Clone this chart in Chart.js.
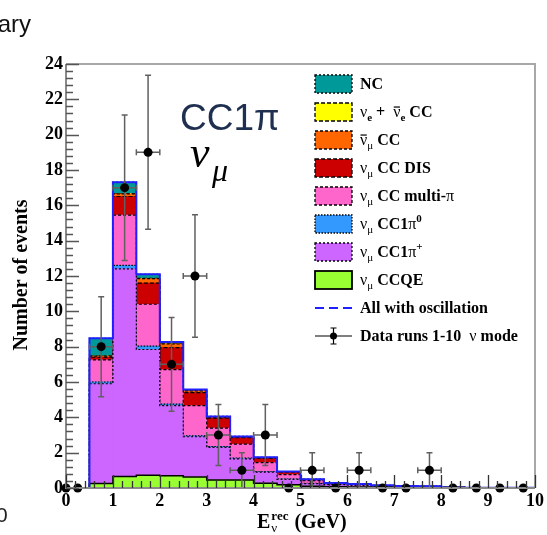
<!DOCTYPE html>
<html>
<head>
<meta charset="utf-8">
<script src="https://cdn.jsdelivr.net/npm/chart.js@4.4.1/dist/chart.umd.min.js"></script>
<style>
  html, body { margin: 0; padding: 0; background: #fff; overflow: hidden; }
  #wrap { position: relative; width: 547px; height: 535px; }
</style>
</head>
<body>
<div id="wrap"><canvas id="c" width="547" height="535"></canvas></div>
<script>
// Reconstructed neutrino energy bins (GeV), 0.5 GeV wide
const binCenters  = [0.25, 0.75, 1.25, 1.75, 2.25, 2.75, 3.25, 3.75, 4.25, 4.75,
                     5.25, 5.75, 6.25, 6.75, 7.25, 7.75, 8.25, 8.75, 9.25, 9.75];
const binLowEdges = [0, 0.5, 1, 1.5, 2, 2.5, 3, 3.5, 4, 4.5,
                     5, 5.5, 6, 6.5, 7, 7.5, 8, 8.5, 9, 9.5, 10];

// Predicted events per bin for each interaction mode (stacked bottom to top)
const numuCCQE    = [0, 0.25, 0.65, 0.72, 0.70, 0.62, 0.45, 0.45, 0.27, 0.18, 0.10, 0.07, 0.06, 0.05, 0.04, 0.03, 0.02, 0.01, 0.01, 0.01];
const numuCC1piP  = [0, 5.65, 11.75, 7.12, 3.96, 2.28, 1.85, 1.20, 0.63, 0.31, 0.15, 0.12, 0.09, 0.06, 0.04, 0.04, 0.01, 0.01, 0.01, 0.01];
const numuCC1pi0  = [0, 0.10, 0.20, 0.19, 0.09, 0.05, 0.05, 0.04, 0.03, 0.02, 0.01, 0.01, 0, 0, 0, 0, 0, 0, 0, 0];
const numuCCmulti = [0, 1.25, 2.85, 2.37, 1.95, 1.71, 1.04, 0.79, 0.51, 0.25, 0.16, 0.06, 0.04, 0.02, 0.02, 0.01, 0, 0, 0, 0];
const numuCCDIS   = [0, 0.15, 1.05, 1.20, 1.25, 0.74, 0.56, 0.37, 0.24, 0.14, 0.05, 0.02, 0.02, 0.01, 0.01, 0.01, 0, 0, 0, 0];
const numubarCC   = [0, 0.06, 0.15, 0.25, 0.20, 0.10, 0.05, 0.03, 0.03, 0.02, 0.01, 0, 0, 0, 0, 0, 0, 0, 0, 0];
const nueCC       = [0, 0.01, 0.02, 0.02, 0.01, 0.01, 0.01, 0, 0, 0, 0, 0, 0, 0, 0, 0, 0, 0, 0, 0];
const ncEvents    = [0, 1.00, 0.64, 0.23, 0.11, 0.06, 0.04, 0.04, 0.03, 0.01, 0.02, 0.01, 0.01, 0.01, 0.01, 0.01, 0, 0, 0, 0];

// Observed data (runs 1-10, neutrino mode)
const dataE       = [0.0, 0.25, 0.75, 1.25, 1.75, 2.25, 2.75, 3.25, 3.75, 4.25, 4.75,
                     5.25, 5.75, 6.25, 6.75, 7.25, 7.75, 8.25, 8.75, 9.25, 9.75];
const dataCounts  = [0, 0, 8, 17, 19, 7, 12, 3, 1, 3, 0, 1, 0, 1, 0, 0, 1, 0, 0, 0, 0];
const dataErr     = [0, 0, 2.83, 4.12, 4.36, 2.65, 3.46, 1.73, 1, 1.73, 0, 1, 0, 1, 0, 0, 1, 0, 0, 0, 0];
const dataHalfBin = [0, 0, 0.25, 0.25, 0.25, 0.25, 0.25, 0.25, 0.25, 0.25, 0, 0.25, 0, 0.25, 0, 0, 0.25, 0, 0, 0, 0];

// Axis ticks
const xTickMajor = 1, xTickMinor = 0.2;
const yTickMajor = 2, yTickMinor = 0.4;

const SERIF = '"Liberation Serif", "Times New Roman", serif';
const SANS  = '"Liberation Sans", Arial, sans-serif';

const layers = [
  { label: 'νμ CCQE',        values: numuCCQE,    color: '#99ff33', dash: [],      lw: 1.5 },
  { label: 'νμ CC1π+',       values: numuCC1piP,  color: '#cc66ff', dash: [2, 2],  lw: 1.2 },
  { label: 'νμ CC1π0',       values: numuCC1pi0,  color: '#3399ff', dash: [1.5, 1.5], lw: 1.2 },
  { label: 'νμ CC multi-π',  values: numuCCmulti, color: '#ff66cc', dash: [3, 2],  lw: 1.2 },
  { label: 'νμ CC DIS',      values: numuCCDIS,   color: '#cc0000', dash: [4, 2],  lw: 1.2 },
  { label: 'ν̄μ CC',          values: numubarCC,   color: '#ff6600', dash: [3, 2],  lw: 1.2 },
  { label: 'νe + ν̄e CC',     values: nueCC,       color: '#ffff00', dash: [4, 2],  lw: 1.2 },
  { label: 'NC',             values: ncEvents,    color: '#009999', dash: [2, 2],  lw: 1.2 }
];

// Sum of all modes, drawn as the outline of the prediction
const totalPred = binCenters.map((_, i) => layers.reduce((s, l) => s + l.values[i], 0));

const datasets = layers.map(l => ({
  type: 'bar',
  label: l.label,
  data: binCenters.map((x, i) => ({ x, y: l.values[i] })),
  backgroundColor: l.color,
  borderWidth: 0,
  barPercentage: 1,
  categoryPercentage: 1,
  grouped: false,
  stack: 'mc',
  order: 2,
  outline: { dash: l.dash, lw: l.lw }
}));

datasets.push({
  type: 'line',
  label: 'All with oscillation',
  data: binLowEdges.map((x, i) => ({ x, y: totalPred[Math.min(i, totalPred.length - 1)] })),
  borderColor: '#2020ff',
  borderWidth: 2,
  pointRadius: 0,
  fill: false,
  stepped: true,
  order: 1
});

const dataIndex = datasets.length;
datasets.push({
  type: 'line',
  label: 'Data runs 1-10  ν mode',
  data: dataE.map((x, i) => ({ x, y: dataCounts[i] })),
  showLine: false,
  pointRadius: 4.5,
  pointBackgroundColor: '#000',
  pointBorderColor: '#000',
  pointBorderWidth: 0,
  clip: false,
  order: 0
});

// Dashed step outline on top of each stacked layer
const layerOutlines = {
  id: 'layerOutlines',
  afterDatasetDraw(chart, args) {
    const ds = chart.data.datasets[args.index];
    if (!ds.outline) return;
    const ctx = chart.ctx, area = chart.chartArea;
    const y0 = chart.scales.y.getPixelForValue(0);
    const els = args.meta.data;
    ctx.save();
    ctx.beginPath();
    ctx.rect(area.left, area.top, area.right - area.left, area.bottom - area.top);
    ctx.clip();
    ctx.beginPath();
    els.forEach((el, j) => {
      const p = el.getProps(['x', 'y', 'width'], true);
      const l = p.x - p.width / 2, r = p.x + p.width / 2;
      if (j === 0) ctx.moveTo(l, y0);
      ctx.lineTo(l, p.y);
      ctx.lineTo(r, p.y);
      if (j === els.length - 1) ctx.lineTo(r, y0);
    });
    ctx.setLineDash(ds.outline.dash);
    ctx.lineWidth = ds.outline.lw;
    ctx.strokeStyle = '#000';
    ctx.stroke();
    ctx.restore();
  }
};

// Error bars on the data points
const errorBars = {
  id: 'errorBars',
  beforeDatasetDraw(chart, args) {
    if (args.index !== dataIndex) return;
    const ctx = chart.ctx, xs = chart.scales.x, ys = chart.scales.y;
    ctx.save();
    ctx.strokeStyle = '#606060';
    ctx.lineWidth = 1.5;
    const cap = 3;
    dataE.forEach((e, i) => {
      const n = dataCounts[i];
      if (n <= 0) return;
      const px = xs.getPixelForValue(e), py = ys.getPixelForValue(n);
      const yHi = ys.getPixelForValue(n + dataErr[i]);
      const yLo = ys.getPixelForValue(Math.max(0, n - dataErr[i]));
      const xL = xs.getPixelForValue(e - dataHalfBin[i]);
      const xR = xs.getPixelForValue(e + dataHalfBin[i]);
      ctx.beginPath();
      ctx.moveTo(px, yHi); ctx.lineTo(px, yLo);
      ctx.moveTo(px - cap, yHi); ctx.lineTo(px + cap, yHi);
      if (n - dataErr[i] > 0) { ctx.moveTo(px - cap, yLo); ctx.lineTo(px + cap, yLo); }
      ctx.moveTo(xL, py); ctx.lineTo(xR, py);
      ctx.moveTo(xL, py - cap); ctx.lineTo(xL, py + cap);
      ctx.moveTo(xR, py - cap); ctx.lineTo(xR, py + cap);
      ctx.stroke();
    });
    ctx.restore();
  }
};

// Frame and inward-pointing tick marks
const frameTicks = {
  id: 'frameTicks',
  afterDatasetsDraw(chart) {
    const ctx = chart.ctx, a = chart.chartArea, xs = chart.scales.x, ys = chart.scales.y;
    ctx.save();
    ctx.lineWidth = 2;
    ctx.strokeStyle = '#a8a8a8';
    ctx.beginPath();
    ctx.moveTo(a.left, a.top); ctx.lineTo(a.right, a.top); ctx.lineTo(a.right, a.bottom);
    ctx.stroke();
    ctx.strokeStyle = '#8a8a8a';
    ctx.beginPath();
    ctx.moveTo(a.left, a.top); ctx.lineTo(a.left, a.bottom); ctx.lineTo(a.right, a.bottom);
    ctx.stroke();

    ctx.lineWidth = 1.3;
    ctx.strokeStyle = '#555';
    ctx.beginPath();
    for (let k = 0; k <= Math.round(24 / yTickMinor); k++) {
      const v = k * yTickMinor;
      const major = Math.abs(v / yTickMajor - Math.round(v / yTickMajor)) < 1e-6;
      const py = Math.round(ys.getPixelForValue(v)) + 0.5;
      ctx.moveTo(a.left, py); ctx.lineTo(a.left + (major ? 13 : 7), py);
    }
    ctx.stroke();
    ctx.strokeStyle = '#333';
    ctx.beginPath();
    for (let k = 0; k <= Math.round(10 / xTickMinor); k++) {
      const v = k * xTickMinor;
      const major = Math.abs(v / xTickMajor - Math.round(v / xTickMajor)) < 1e-6;
      const px = Math.round(xs.getPixelForValue(v)) + 0.5;
      ctx.moveTo(px, a.bottom); ctx.lineTo(px, a.bottom - (major ? 13 : 7));
    }
    ctx.stroke();
    ctx.restore();
  }
};

// Text made of runs with sub/superscripts and overbars
function drawRich(ctx, x, y, segs, size) {
  for (const s of segs) {
    let fs = size, dy = 0;
    if (s.s === 'sub') { fs = Math.round(size * 0.68); dy = size * 0.28; }
    if (s.s === 'sup') { fs = Math.round(size * 0.68); dy = -size * 0.42; }
    ctx.font = `${s.w || 'bold'} ${fs}px ${SERIF}`;
    ctx.fillText(s.t, x, y + dy);
    const tw = ctx.measureText(s.t).width;
    if (s.bar) ctx.fillRect(x + 0.5, y - size * 0.66, tw - 1, 1.2);
    x += tw;
  }
  return x;
}

const nu = { t: 'ν', w: 'normal' };
const nubar = { t: 'ν', w: 'normal', bar: true };
const subMu = { t: 'μ', s: 'sub', w: 'normal' };
const subE = { t: 'e', s: 'sub' };

const legendRows = [
  { kind: 'box', fill: '#009999', dash: [2, 2], text: [{ t: 'NC' }] },
  { kind: 'box', fill: '#ffff00', dash: [4, 2], text: [nu, subE, { t: ' +  ' }, nubar, subE, { t: ' CC' }] },
  { kind: 'box', fill: '#ff6600', dash: [3, 2], text: [nubar, subMu, { t: ' CC' }] },
  { kind: 'box', fill: '#cc0000', dash: [4, 2], text: [nu, subMu, { t: ' CC DIS' }] },
  { kind: 'box', fill: '#ff66cc', dash: [3, 2], text: [nu, subMu, { t: ' CC multi-' }, { t: 'π', w: 'normal' }] },
  { kind: 'box', fill: '#3399ff', dash: [1.5, 1.5], text: [nu, subMu, { t: ' CC1' }, { t: 'π', w: 'normal' }, { t: '0', s: 'sup' }] },
  { kind: 'box', fill: '#cc66ff', dash: [2, 2], text: [nu, subMu, { t: ' CC1' }, { t: 'π', w: 'normal' }, { t: '+', s: 'sup' }] },
  { kind: 'box', fill: '#99ff33', dash: [], text: [nu, subMu, { t: ' CCQE' }] },
  { kind: 'line', text: [{ t: 'All with oscillation' }] },
  { kind: 'data', text: [{ t: 'Data runs 1-10  ' }, nu, { t: ' mode' }] }
];

const overlay = {
  id: 'overlay',
  afterDraw(chart) {
    const ctx = chart.ctx;
    ctx.save();
    ctx.fillStyle = '#000';
    ctx.textBaseline = 'alphabetic';

    // legend
    const bx = 315, bw = 37, bh = 18, tx = 360;
    legendRows.forEach((row, i) => {
      const cy = 84 + 28 * i;
      if (row.kind === 'box') {
        ctx.fillStyle = row.fill;
        ctx.fillRect(bx, cy - bh / 2, bw, bh);
        ctx.strokeStyle = '#000';
        ctx.lineWidth = row.dash.length ? 1.3 : 1.8;
        ctx.setLineDash(row.dash);
        ctx.strokeRect(bx, cy - bh / 2, bw, bh);
        ctx.setLineDash([]);
      } else if (row.kind === 'line') {
        ctx.strokeStyle = '#2020ff';
        ctx.lineWidth = 2;
        ctx.setLineDash([9, 5]);
        ctx.beginPath(); ctx.moveTo(bx, cy); ctx.lineTo(bx + bw, cy); ctx.stroke();
        ctx.setLineDash([]);
      } else {
        const mx = bx + bw / 2;
        ctx.strokeStyle = '#000';
        ctx.lineWidth = 1.2;
        ctx.beginPath();
        ctx.moveTo(bx, cy); ctx.lineTo(bx + bw, cy);
        ctx.moveTo(mx, cy - 8); ctx.lineTo(mx, cy + 8);
        ctx.moveTo(mx - 3, cy - 8); ctx.lineTo(mx + 3, cy - 8);
        ctx.moveTo(mx - 3, cy + 8); ctx.lineTo(mx + 3, cy + 8);
        ctx.stroke();
        ctx.fillStyle = '#000';
        ctx.beginPath(); ctx.arc(mx, cy, 3.5, 0, Math.PI * 2); ctx.fill();
      }
      ctx.fillStyle = '#000';
      drawRich(ctx, tx, cy + 5, row.text, 16);
    });

    // x axis title
    ctx.font = `bold 20px ${SERIF}`;
    ctx.fillText('E', 257, 528);
    const ex = 257 + ctx.measureText('E').width;
    ctx.font = `bold 13px ${SERIF}`;
    ctx.fillText('rec', ex + 1, 520);
    const rw = ctx.measureText('rec').width;
    ctx.font = `normal 13px ${SERIF}`;
    ctx.fillText('ν', ex + 1, 532);
    ctx.font = `bold 20px ${SERIF}`;
    ctx.fillText(' (GeV)', ex + rw + 2, 528);

    // y axis title
    ctx.save();
    ctx.translate(22, 275);
    ctx.rotate(-Math.PI / 2);
    ctx.textAlign = 'center';
    ctx.textBaseline = 'middle';
    ctx.font = `bold 20px ${SERIF}`;
    ctx.fillText('Number of events', 0, 0);
    ctx.restore();

    // sample name
    ctx.fillStyle = '#1f2f4f';
    ctx.font = `37px ${SANS}`;
    ctx.fillText('CC1π', 180, 130);
    ctx.fillStyle = '#000';
    ctx.font = `italic 44px ${SERIF}`;
    ctx.fillText('ν', 190, 167);
    ctx.font = `italic 32px ${SERIF}`;
    ctx.fillText('μ', 212, 181);

    // page header and neighbouring panel text
    ctx.fillStyle = '#111';
    ctx.font = `24px ${SANS}`;
    ctx.textAlign = 'right';
    ctx.fillText('Preliminary', 31, 32);
    ctx.textAlign = 'left';
    ctx.fillStyle = '#222';
    ctx.font = `21px ${SANS}`;
    ctx.fillText('0', -4, 522);

    ctx.restore();
  }
};

const tickFont = { family: SERIF, size: 18, weight: 'bold' };

new Chart(document.getElementById('c'), {
  type: 'bar',
  data: { datasets },
  options: {
    responsive: false,
    animation: false,
    devicePixelRatio: 1,
    layout: { padding: { left: 0, right: 8, top: 64, bottom: 0 } },
    plugins: { legend: { display: false }, tooltip: { enabled: false } },
    scales: {
      x: {
        type: 'linear',
        min: 0, max: 10,
        offset: false,
        grid: { display: false, drawTicks: false, offset: false },
        border: { display: false },
        ticks: { stepSize: 1, padding: 3, color: '#000', font: tickFont, maxRotation: 0, autoSkip: false },
        afterFit(s) { s.height = 47; }
      },
      y: {
        type: 'linear',
        min: 0, max: 24,
        grid: { display: false, drawTicks: false },
        border: { display: false },
        ticks: { stepSize: 2, padding: 3, color: '#000', font: tickFont },
        afterFit(s) { s.width = 66; }
      }
    }
  },
  plugins: [layerOutlines, errorBars, frameTicks, overlay]
});
</script>
</body>
</html>
